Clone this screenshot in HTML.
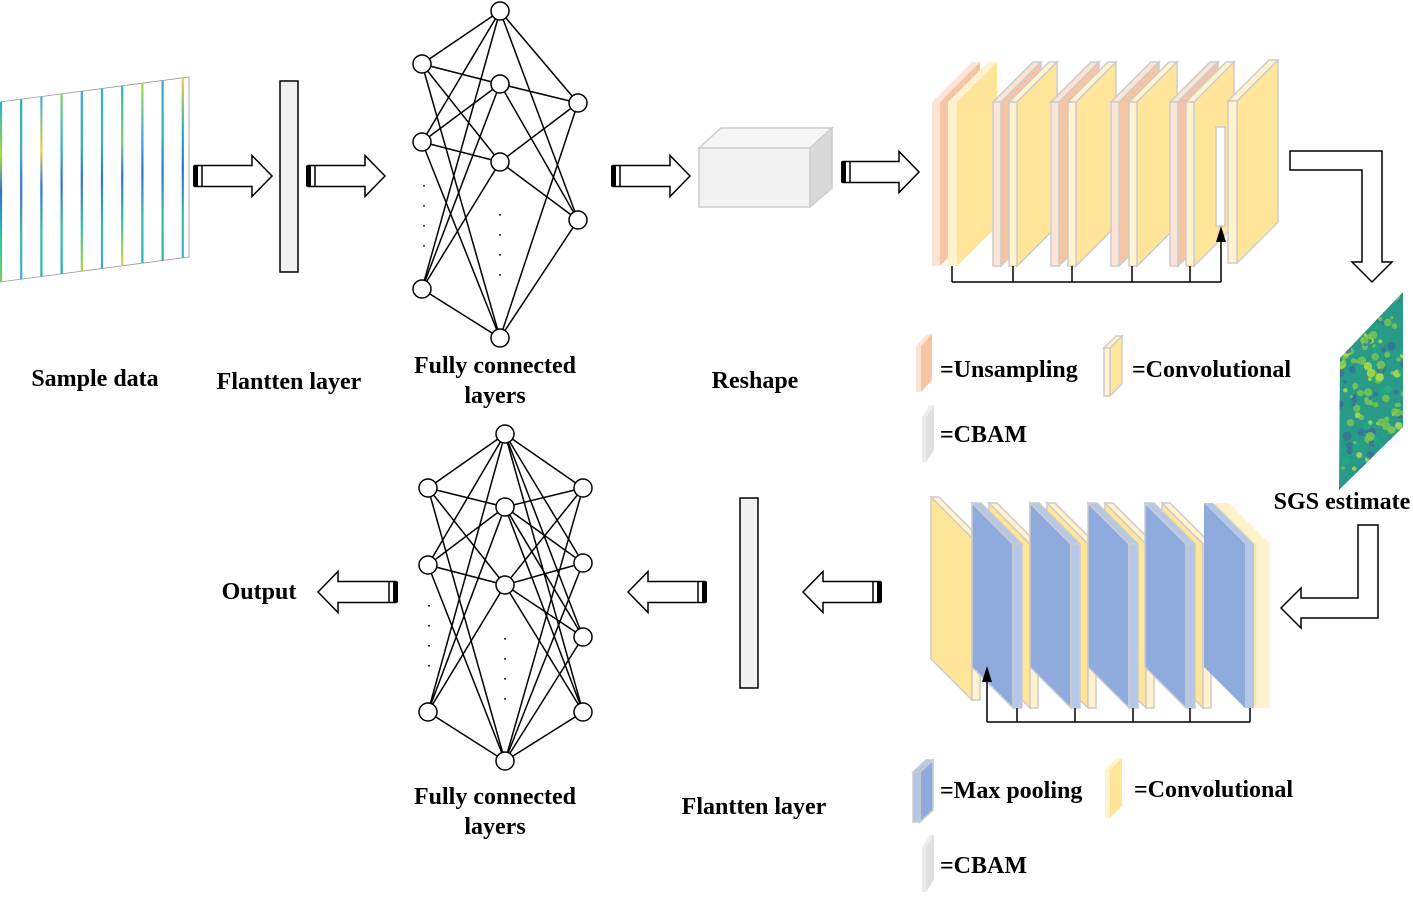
<!DOCTYPE html>
<html><head><meta charset="utf-8"><style>
html,body{margin:0;padding:0;background:#fff;}
svg{display:block;}
text{font-family:"Liberation Serif",serif;font-weight:bold;font-size:24px;fill:#000;}
</style></head><body>
<svg id="s" width="1413" height="897" viewBox="0 0 1413 897" xmlns="http://www.w3.org/2000/svg">
<g id="g"></g>
<text x="95" y="386" text-anchor="middle">Sample data</text>
<text x="289" y="389" text-anchor="middle">Flantten layer</text>
<text x="495" y="373" text-anchor="middle">Fully connected</text>
<text x="495" y="403" text-anchor="middle">layers</text>
<text x="755" y="388" text-anchor="middle">Reshape</text>
<text x="1342" y="509" text-anchor="middle">SGS estimate</text>
<text x="259" y="599" text-anchor="middle">Output</text>
<text x="495" y="804" text-anchor="middle">Fully connected</text>
<text x="495" y="834" text-anchor="middle">layers</text>
<text x="754" y="814" text-anchor="middle">Flantten layer</text>
<text x="940" y="377">=Unsampling</text>
<text x="1132" y="377">=Convolutional</text>
<text x="940" y="442">=CBAM</text>
<text x="940" y="798">=Max pooling</text>
<text x="1134" y="797">=Convolutional</text>
<text x="940" y="873">=CBAM</text>
</svg>
<script>
var g=document.getElementById('g'),h='';
function P(pts,f,s,sw){h+='<polygon points="'+pts.map(p=>p.join(',')).join(' ')+'" fill="'+f+'" stroke="'+(s||'none')+'" stroke-width="'+(sw||1)+'"/>';}
function L(x1,y1,x2,y2,w){h+='<line x1="'+x1+'" y1="'+y1+'" x2="'+x2+'" y2="'+y2+'" stroke="#000" stroke-width="'+(w||1.5)+'"/>';}
// sample data
P([[0,102],[189,77],[189,257],[0,282]],'#fff','#999',0.8);
var cols=['#2ab0c8','#22b5a0','#3cb4d0','#7ccf6a','#38a8e0','#28b8b0','#22b0b8','#a8d840','#3ca8d8','#e8d040'];
for(var i=0;i<10;i++){var x=1+i*20.2;var yt=102-x*25/189,yb=282-x*25/189;
h+='<defs><linearGradient id="lg'+i+'" gradientUnits="userSpaceOnUse" x1="0" y1="'+yt+'" x2="0" y2="'+yb+'"><stop offset="0" stop-color="'+cols[i]+'"/><stop offset="0.3" stop-color="'+cols[(i+7)%10]+'"/><stop offset="0.5" stop-color="#3070d8"/><stop offset="0.75" stop-color="#30c0a0"/><stop offset="1" stop-color="'+cols[(i+3)%10]+'"/></linearGradient></defs>';
h+='<line x1="'+x+'" y1="'+yt+'" x2="'+x+'" y2="'+yb+'" stroke="url(#lg'+i+')" stroke-width="2.2"/>';}
// arrows
function AR(x0,x1,cy,dir){var t=x0,e=x1;var sh=10.5,hh=20.5,hl=20;
 if(dir>0){P([[t+2,cy-sh],[e-hl,cy-sh],[e-hl,cy-hh],[e,cy],[e-hl,cy+hh],[e-hl,cy+sh],[t+2,cy+sh]],'#fff','#000',1.5);
 h+='<rect x="'+t+'" y="'+(cy-sh)+'" width="5" height="'+(2*sh)+'" fill="#000"/>';L(t+9,cy-sh,t+9,cy+sh,1.5);}
 else{P([[e-2,cy-sh],[t+hl,cy-sh],[t+hl,cy-hh],[t,cy],[t+hl,cy+hh],[t+hl,cy+sh],[e-2,cy+sh]],'#fff','#000',1.5);
 h+='<rect x="'+(e-5)+'" y="'+(cy-sh)+'" width="5" height="'+(2*sh)+'" fill="#000"/>';L(e-9,cy-sh,e-9,cy+sh,1.5);}}
AR(193,272,176,1);AR(306,385,176,1);AR(611,690,176,1);AR(841,919,172,1);
AR(318,398,592,-1);AR(628,707,592,-1);AR(803,882,592,-1);
// flatten
h+='<rect x="280" y="81" width="18" height="191" fill="#f0f0f0" stroke="#000" stroke-width="1.5"/>';
h+='<rect x="740" y="498" width="18" height="190" fill="#f0f0f0" stroke="#000" stroke-width="1.5"/>';
// networks
function NET(A,B,C){A.forEach(a=>B.forEach(b=>L(a[0],a[1],b[0],b[1])));B.forEach(b=>C.forEach(c=>L(b[0],b[1],c[0],c[1])));
 A.concat(B,C).forEach(n=>{h+='<circle cx="'+n[0]+'" cy="'+n[1]+'" r="9" fill="#fff" stroke="#000" stroke-width="1.5"/>';});}
NET([[422,64],[422,142],[422,289]],[[500,11],[500,84],[500,162],[500,338]],[[578,103],[578,220]]);
NET([[428,488],[428,565],[428,712]],[[505,434],[505,507],[505,585],[505,761]],[[583,488],[583,563],[583,637],[583,712]]);
function DOTS(x,y0,n,d){for(var i=0;i<n;i++)h+='<rect x="'+(x-0.8)+'" y="'+(y0+i*d)+'" width="1.6" height="1.6" fill="#000"/>';}
DOTS(424,185,4,20);DOTS(500,214,4,20);DOTS(429,605,4,20);DOTS(505,638,4,20);
// reshape
P([[699,148],[721,128],[832,128],[810,148]],'#f5f5f5','#ccc',1.5);
P([[810,148],[832,128],[832,188],[810,207]],'#d9d9d9','#ccc',1.5);
h+='<rect x="699" y="148" width="111" height="59" fill="#f2f2f2" stroke="#ccc" stroke-width="1.5"/>';
function SL(x,w,yt,hh,dx,dy,fc,sc,st){
 if(dx>0){P([[x+w,yt],[x+w+dx,yt-dy],[x+w+dx,yt+hh-dy],[x+w,yt+hh]],sc,st,1.5);P([[x,yt],[x+dx,yt-dy],[x+w+dx,yt-dy],[x+w,yt]],fc,st,1.5);}
 else{P([[x,yt],[x+dx,yt-dy],[x+dx,yt+hh-dy],[x,yt+hh]],sc,st,1.5);P([[x,yt],[x+dx,yt-dy],[x+w+dx,yt-dy],[x+w,yt]],fc,st,1.5);}
 h+='<rect x="'+x+'" y="'+yt+'" width="'+w+'" height="'+hh+'" fill="'+fc+'" stroke="'+(st||'none')+'" stroke-width="1.5"/>';}
var UF='#fbe3d5',US='#f5c4a3',CF='#fff2cc',CS='#fee599',GR='#ccc';
SL(932,8,102,164,40,40,UF,US,null);SL(948,9,102,164,40,40,CF,CS,null);
[[993,1009],[1051,1068],[1111,1129],[1170,1186]].forEach(p=>{SL(p[0],8,102,164,40,40,UF,US,GR);SL(p[1],8,102,164,40,40,CF,CS,GR);});
h+='<rect x="1216" y="127" width="9" height="99" fill="#fff" stroke="#ccc" stroke-width="1.5"/>';
SL(1228,9,101,162,41,41,CF,CS,GR);
L(952,282,1221,282,1.5);[952,1013,1072,1132,1190].forEach(x=>L(x,266,x,282,1.5));L(1221,282,1221,240,1.5);
P([[1216,242],[1221,226],[1226,242]],'#000');
SL(972,8,538,162,-41,41,CF,CS,GR);
h+='<rect x="981" y="568" width="9" height="99" fill="#fff" stroke="#ccc" stroke-width="1.5"/>';
var BF='#b4c7e7',BS='#8faadc';
[1013,1071,1129,1186].forEach(b=>{SL(b+17,8,544,164,-41,41,CF,CS,GR);SL(b,9,544,164,-41,41,BF,BS,GR);});
SL(1256,14,544,164,-41,41,CF,CS,null);SL(1245,9,544,164,-41,41,BF,BS,null);
L(987,722,1250,722,1.5);[1017,1075,1133,1190,1250].forEach(x=>L(x,708,x,722,1.5));L(987,722,987,680,1.5);
P([[982,682],[987,666],[992,682]],'#000');
P([[1290,151],[1382,151],[1382,262],[1392,262],[1372,282],[1352,262],[1362,262],[1362,170],[1290,170]],'#fff','#000',1.5);
P([[1358,525],[1378,525],[1378,618],[1301,618],[1301,628],[1281,608],[1301,588],[1301,598],[1358,598]],'#fff','#000',1.5);
// SGS image
h+='<defs><clipPath id="cp"><polygon points="1340,358 1403,292 1403,427 1339,490"/></clipPath></defs>';
h+='<g clip-path="url(#cp)"><rect x="1335" y="288" width="72" height="206" fill="#2a9a88"/>';
var seed=7;function R(){seed=(seed*9301+49297)%233280;return seed/233280;}
for(var k=0;k<220;k++){var px=1338+R()*68,py=290+R()*202;var c=R();h+='<circle cx="'+px.toFixed(1)+'" cy="'+py.toFixed(1)+'" r="'+(1.5+R()*3).toFixed(1)+'" fill="'+(c<0.35?'#7cc850':c<0.55?'#b8e040':c<0.8?'#3a6f96':'#22a884')+'" opacity="0.8"/>';}
h+='</g>';
SL(916,5,346,46,11,12,UF,US,null);
SL(1104,6,348,48,12,12,CF,CS,GR);
SL(922,4,417,45,8,12,'#ececec','#e0e0e0',null);
SL(913,7,772,50,13,12,BF,BS,GR);
SL(1105,5,770,48,12,12,CF,CS,null);
SL(922,4,847,45,8,12,'#ececec','#e0e0e0',null);
g.innerHTML=h;
</script>
</body></html>
